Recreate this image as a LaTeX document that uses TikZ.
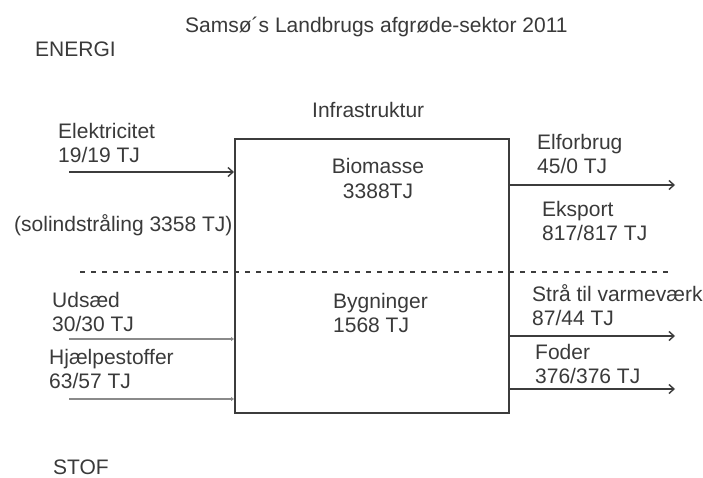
\documentclass[tikz,border=0pt]{standalone}
\usepackage{fontspec}
\setmainfont{Liberation Sans}
\usetikzlibrary{arrows.meta}
\definecolor{txt}{HTML}{3A3A3A}
\definecolor{ln}{HTML}{3C3C3C}
\definecolor{lnlight}{HTML}{8A8A8A}
\begin{document}
\begin{tikzpicture}[x=1pt,y=-1pt,
  lbl/.style={anchor=base west,inner sep=0pt,align=left,text=txt,
    font=\fontsize{21}{23.5}\selectfont},
  clbl/.style={lbl,anchor=base,align=center,font=\fontsize{21}{25}\selectfont},
  flow/.style={draw=ln,line width=1.6pt,-{Straight Barb[length=5pt,width=9pt,line width=1.4pt]}},
  flowlight/.style={draw=lnlight,line width=1.4pt,-{Triangle[length=3pt,width=4pt]}},
  blk/.style={draw=ln,line width=2pt,inner sep=0pt,minimum width=274pt,minimum height=274pt,anchor=north west},
  divider/.style={draw=ln,line width=1.4pt,dash pattern=on 5pt off 6pt}]
\useasboundingbox[fill=white] (0,0) rectangle (703,477);
% box
\node[blk] (box) at (234,138) {};
% texts (multi-line nodes are placed at the baseline of their last line)
\node[lbl] (title) at (185,32) {Samsø´s Landbrugs afgrøde-sektor 2011};
\node[lbl] (energi) at (35,56) {ENERGI};
\node[lbl] (infra) at (312,117) {Infrastruktur};
\node[lbl] (elek) at (58,162) {Elektricitet\\19/19 TJ};
\node[lbl] (sol) at (14,231) {(solindstråling 3358 TJ)};
\node[clbl] (bio) at (378,198) {Biomasse\\3388TJ};
\node[lbl] (elf) at (537,173) {Elforbrug\\45/0 TJ};
\node[lbl] (eks) at (542,240) {Eksport\\817/817 TJ};
\node[lbl] (uds) at (52,331) {Udsæd\\30/30 TJ};
\node[lbl] (hjae) at (49,388) {Hjælpestoffer\\63/57 TJ};
\node[lbl] (byg) at (333,332) {Bygninger\\1568 TJ};
\node[lbl] (stra) at (532,325) {Strå til varmeværk\\87/44 TJ};
\node[lbl] (foder) at (535,383) {Foder\\376/376 TJ};
\node[lbl] (stof) at (53,474) {STOF};
% free ends
\coordinate (elin) at (69,172);
\coordinate (udsin) at (69,339);
\coordinate (hjin) at (69,399);
\coordinate (elout) at (675,185);
\coordinate (straout) at (675,336);
\coordinate (foderout) at (675,389);
\coordinate (dl) at (80,272);
\coordinate (dr) at (672,272);
% connectors
\draw[flow] (elin) -- (elin -| box.west);
\draw[flowlight] (udsin) -- (udsin -| box.west);
\draw[flowlight] (hjin) -- (hjin -| box.west);
\draw[flow] (elout -| box.east) -- (elout);
\draw[flow] (straout -| box.east) -- (straout);
\draw[flow] (foderout -| box.east) -- (foderout);
\draw[divider] (dl) -- (dr);
\end{tikzpicture}
\end{document}
